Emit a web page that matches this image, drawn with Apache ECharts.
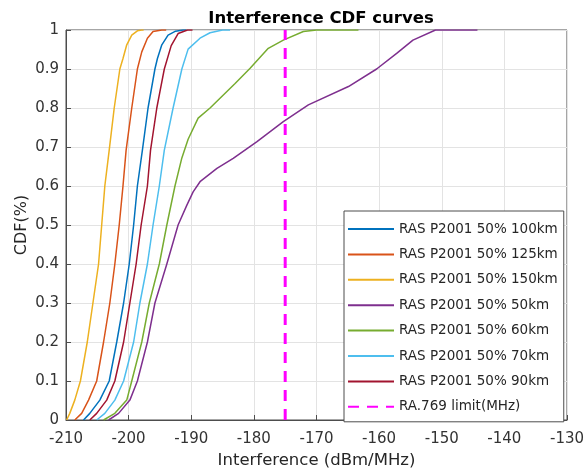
<!DOCTYPE html>
<html>
<head>
<meta charset="utf-8">
<script src="https://cdn.jsdelivr.net/npm/echarts@6/dist/echarts.min.js"></script>
<style>
html,body{margin:0;padding:0;background:#fff;overflow:hidden;}
#c{width:584px;height:470px;}
</style>
</head>
<body>
<div id="c"></div>
<script>
// ---- data (x = interference dBm/MHz, y = CDF) ----
var xTicks = [-210,-200,-190,-180,-170,-160,-150,-140,-130];
var yTicks = [0,0.1,0.2,0.3,0.4,0.5,0.6,0.7,0.8,0.9,1];

var names = ['RAS P2001 50% 100km','RAS P2001 50% 125km','RAS P2001 50% 150km','RAS P2001 50% 50km','RAS P2001 50% 60km','RAS P2001 50% 70km','RAS P2001 50% 90km'];

var cdf100km = [[-207.2,0],[-206.2,0.017],[-204.6,0.051],[-203.1,0.1],[-201.9,0.2],[-200.8,0.3],[-199.9,0.4],[-199.2,0.5],[-198.6,0.6],[-197.8,0.692],[-196.9,0.8],[-195.8,0.9],[-195.4,0.927],[-194.7,0.962],[-193.7,0.987],[-192.5,0.997],[-191.3,1],[-190.8,1]];
var cdf125km = [[-208.6,0],[-207.5,0.017],[-206.4,0.051],[-205.1,0.1],[-204.0,0.2],[-203.0,0.3],[-202.2,0.4],[-201.5,0.5],[-200.9,0.6],[-200.4,0.692],[-199.5,0.8],[-198.6,0.9],[-197.9,0.944],[-197.0,0.979],[-196.1,0.996],[-194.7,1],[-194.0,1]];
var cdf150km = [[-209.9,0],[-209.4,0.017],[-208.6,0.051],[-207.7,0.1],[-206.6,0.2],[-205.7,0.3],[-204.8,0.4],[-204.3,0.5],[-203.8,0.6],[-203.1,0.692],[-202.3,0.8],[-201.4,0.9],[-200.9,0.927],[-200.3,0.962],[-199.5,0.987],[-198.6,0.998],[-197.9,1],[-197.6,1]];
var cdf50km  = [[-203.2,0],[-201.6,0.017],[-199.8,0.051],[-198.6,0.1],[-197.0,0.2],[-195.8,0.3],[-193.9,0.4],[-192.1,0.5],[-190.7,0.551],[-189.7,0.585],[-188.6,0.611],[-185.9,0.645],[-183.3,0.671],[-179.5,0.714],[-175.3,0.765],[-171.3,0.808],[-164.9,0.855],[-160.4,0.9],[-157.2,0.94],[-154.6,0.974],[-151.0,1],[-144.3,1]];
var cdf60km  = [[-204.0,0],[-202.2,0.017],[-200.3,0.051],[-199.5,0.1],[-197.9,0.2],[-196.7,0.3],[-195.1,0.4],[-193.9,0.5],[-192.6,0.6],[-191.5,0.672],[-190.5,0.72],[-188.9,0.774],[-187.0,0.8],[-183.0,0.863],[-180.6,0.902],[-177.7,0.953],[-175.3,0.974],[-172.1,0.996],[-170.0,1],[-163.3,1]];
var cdf70km  = [[-205.1,0],[-203.8,0.017],[-202.2,0.051],[-200.8,0.1],[-199.2,0.2],[-198.2,0.3],[-197.0,0.4],[-196.1,0.5],[-195.1,0.6],[-194.3,0.692],[-192.9,0.8],[-191.5,0.9],[-190.5,0.951],[-188.6,0.979],[-187.0,0.993],[-185.0,1],[-183.8,1]];
var cdf90km  = [[-206.2,0],[-205.1,0.017],[-203.5,0.051],[-202.2,0.1],[-200.8,0.2],[-199.8,0.3],[-198.8,0.4],[-198.0,0.5],[-197.0,0.6],[-196.5,0.692],[-195.5,0.8],[-195.0,0.842],[-194.3,0.9],[-193.2,0.96],[-192.1,0.991],[-190.6,1],[-189.8,1]];

var limitName = 'RA.769 limit(MHz)';
var limitX = -175;
var limitLine = [[limitX,0],[limitX,1]];

var colors = ['#0072BD','#D95319','#EDB120','#7E2F8E','#77AC30','#4DBEEE','#A2142F'];
var curves = [cdf100km,cdf125km,cdf150km,cdf50km,cdf60km,cdf70km,cdf90km];

var series = curves.map(function(d,i){
  return {
    name: names[i], type:'line', data:d, symbol:'none', showSymbol:false, animation:false,
    lineStyle:{color:colors[i], width:1.5}, itemStyle:{color:colors[i]}
  };
});
series.push({
  name: limitName, type:'line', data:limitLine, symbol:'none', showSymbol:false, animation:false,
  lineStyle:{color:'#FF00FF', width:3, type:[11,8]}, itemStyle:{color:'#FF00FF'}
});

var FONT = 'DejaVu Sans';
var chart = echarts.init(document.getElementById('c'), null, {renderer:'canvas'});
chart.setOption({
  backgroundColor:'#fff',
  animation:false,
  title:{text:'Interference CDF curves', left:316, top:5, textAlign:'center',
    textStyle:{fontFamily:FONT, fontSize:16.5, fontWeight:'bold', color:'#000'}},
  grid:{left:66, right:17, top:30, bottom:50, show:true, borderColor:'#4d4d4d', borderWidth:1,
    backgroundColor:'transparent', outerBoundsMode:'none', containLabel:false},
  legend:{
    orient:'vertical', left:344, top:211, data:names.concat([limitName]),
    backgroundColor:'#fff', borderColor:'#4d4d4d', borderWidth:1,
    padding:[11,6,8,3], itemWidth:46, itemHeight:14, itemGap:11.4,
    itemStyle:{color:'transparent', borderColor:'transparent', borderWidth:0, opacity:0},
    textStyle:{fontFamily:FONT, fontSize:13.5, color:'#262626', lineHeight:14}
  },
  xAxis:{
    type:'value', min:-210, max:-130, interval:10,
    name:'Interference (dBm/MHz)', nameLocation:'middle', nameGap:32, nameMoveOverlap:false,
    nameTextStyle:{fontFamily:FONT, fontSize:16.5, color:'#262626'},
    axisLine:{lineStyle:{color:'#4d4d4d'}},
    axisTick:{inside:true, length:5, lineStyle:{color:'#4d4d4d'}},
    axisLabel:{fontFamily:FONT, fontSize:15, color:'#333', margin:12},
    splitLine:{lineStyle:{color:'#e3e3e3'}}
  },
  yAxis:{
    type:'value', min:0, max:1, interval:0.1,
    name:'CDF(%)', nameLocation:'middle', nameGap:36, nameRotate:90, nameMoveOverlap:false,
    nameTextStyle:{fontFamily:FONT, fontSize:16, color:'#262626'},
    axisLine:{show:true, lineStyle:{color:'#4d4d4d'}},
    axisTick:{show:true, inside:true, length:5, lineStyle:{color:'#4d4d4d'}},
    axisLabel:{fontFamily:FONT, fontSize:15, color:'#333', margin:7,
      formatter:function(v){return String(Math.round(v*10)/10);}},
    splitLine:{lineStyle:{color:'#e3e3e3'}}
  },
  series:series
});
</script>
</body>
</html>
